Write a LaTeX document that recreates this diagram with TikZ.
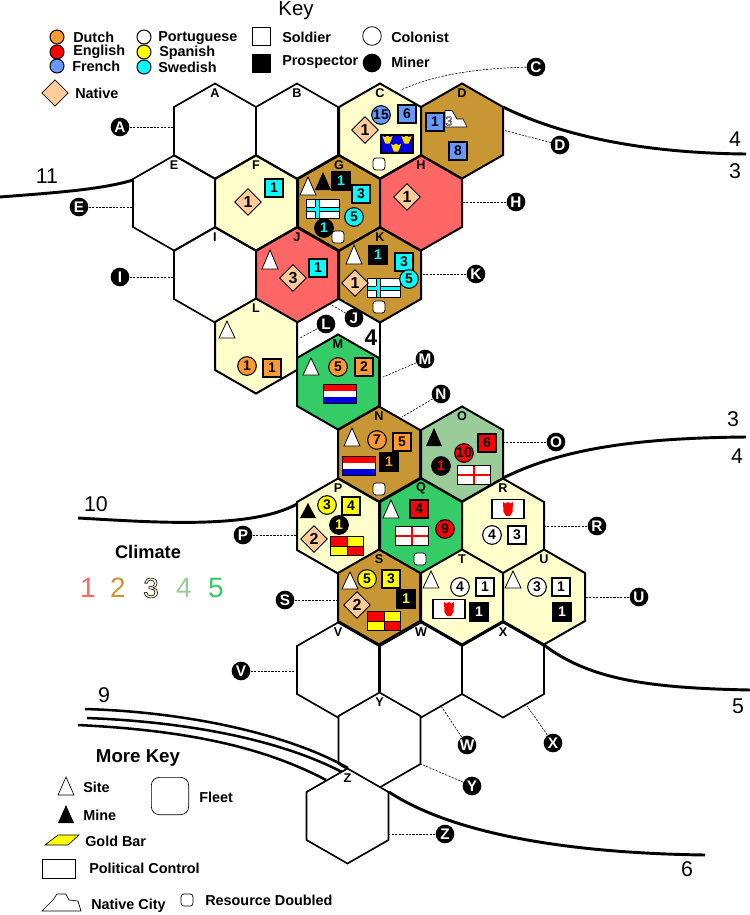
\documentclass[tikz,border=0pt]{standalone}
\usepackage{fontspec}
\setmainfont{Liberation Sans}
\usetikzlibrary{shapes.geometric}
\definecolor{cBrown}{HTML}{C89632}
\definecolor{cPale}{HTML}{FFFFCC}
\definecolor{cRed}{HTML}{FF6666}
\definecolor{cGreen}{HTML}{33CC66}
\definecolor{cSage}{HTML}{99CC99}
\definecolor{cOrange}{HTML}{FF9933}
\definecolor{cBlue}{HTML}{6699FF}
\definecolor{cCyan}{HTML}{00FFFF}
\definecolor{cYellow}{HTML}{FFFF00}
\definecolor{cSkin}{HTML}{FFCC99}
\definecolor{cPure}{HTML}{FF0000}
\definecolor{cNavy}{HTML}{0000E0}
\definecolor{cGold}{HTML}{FFDD00}
\newcount\tk
\newcommand{\nexttk}{\global\advance\tk by 1 }
\newcommand{\hollow}[2][0.45]{{\special{pdf:code 2 Tr #1 w 0 0 0 RG}#2\special{pdf:code 0 Tr}}}
\tikzset{
  hexline/.style={draw=black,line width=1.5pt,line join=miter},
  hexthin/.style={draw=black,line width=1.25pt,line join=miter},
  hexlabel/.style={font=\fontsize{9.5}{10}\selectfont\bfseries,inner sep=0pt},
  tokbase/.style={draw=black,line width=0.8pt,inner sep=0pt,font=\fontsize{10.5}{12}\selectfont\bfseries},
  squaretok/.style={tokbase,rectangle,minimum size=13.5pt},
  circletok/.style={tokbase,circle,minimum size=14pt},
  diamondtok/.style={tokbase,line width=0.65pt,diamond,aspect=1,minimum size=20pt,fill=cSkin,font=\fontsize{12}{12}\selectfont\bfseries},
  leaderball/.style={circle,fill=black,text=white,inner sep=0pt,minimum size=14pt,font=\fontsize{11.5}{12}\selectfont\bfseries},
  leader/.style={black,line width=0.45pt,dash pattern=on 1.6pt off 1pt},
  riverline/.style={black,line width=2.2pt},
  tripleline/.style={black,line width=1.9pt},
  keytext/.style={anchor=west,inner sep=0pt,font=\fontsize{10.8}{12}\selectfont\bfseries},
  headtext/.style={inner sep=0pt,font=\fontsize{15.3}{16}\selectfont},
  boldhead/.style={inner sep=0pt,font=\fontsize{14}{16}\selectfont\bfseries},
  bignum/.style={inner sep=0pt,font=\fontsize{16}{18}\selectfont},
  climnum/.style={inner sep=0pt,font=\fontsize{21}{24}\selectfont},
  fleetmark/.style={draw=black,line width=0.6pt,fill=white,rectangle,rounded corners=2.2pt,minimum size=9pt,inner sep=0pt},
  flagframe/.style={draw=black,line width=0.9pt},
}
\newcommand{\hexa}[5][hexline]{%
  \draw[#1,fill=#5] (#3,{#4-47.5}) -- ({#3+41},{#4-24}) -- ({#3+41},{#4+24}) -- (#3,{#4+47.5}) -- ({#3-41},{#4+24}) -- ({#3-41},{#4-24}) -- cycle;
  \coordinate (c#2) at (#3,#4);}
\newcommand{\hexlab}[3]{\node[hexlabel] (h#1) at (#2,{#3-38}) {#1};}
\newcommand{\tokSq}[5]{\nexttk\node[squaretok,fill=#3,text=#4] (tk\the\tk) at (#1,#2) {#5};}
\newcommand{\tokCi}[5]{\nexttk\node[circletok,fill=#3,text=#4] (tk\the\tk) at (#1,#2) {#5};}
\newcommand{\tokDi}[3]{\nexttk\node[diamondtok] (tk\the\tk) at (#1,#2) {#3};}
\newcommand{\siteT}[3]{\draw[black,line width=0.6pt,fill=white] (#1,#2) -- ({#1+8},#3) -- ({#1-8},#3) -- cycle;}
\newcommand{\mineT}[3]{\fill[black] (#1,#2) -- ({#1+8},#3) -- ({#1-8},#3) -- cycle;}
\newcommand{\fleetM}[2]{\nexttk\node[fleetmark] (tk\the\tk) at (#1,#2) {};}
\newcommand{\flagDutch}[2]{%
  \fill[cPure] ({#1-16.5},{#2-9.5}) rectangle ({#1+16.5},{#2-3});
  \fill[white] ({#1-16.5},{#2-3}) rectangle ({#1+16.5},{#2+3});
  \fill[cNavy] ({#1-16.5},{#2+3}) rectangle ({#1+16.5},{#2+9.5});
  \draw[flagframe] ({#1-16.5},{#2-9.5}) rectangle ({#1+16.5},{#2+9.5});}
\newcommand{\flagEng}[2]{%
  \fill[white] ({#1-16.5},{#2-9.5}) rectangle ({#1+16.5},{#2+9.5});
  \fill[cPure] ({#1-16.5},{#2-1}) rectangle ({#1+16.5},{#2+1});
  \fill[cPure] ({#1-1},{#2-9.5}) rectangle ({#1+1},{#2+9.5});
  \draw[flagframe] ({#1-16.5},{#2-9.5}) rectangle ({#1+16.5},{#2+9.5});}
\newcommand{\flagCheck}[2]{%
  \fill[cPure] ({#1-16.5},{#2-9.5}) rectangle (#1,#2);
  \fill[cYellow] (#1,{#2-9.5}) rectangle ({#1+16.5},#2);
  \fill[cYellow] ({#1-16.5},#2) rectangle (#1,{#2+9.5});
  \fill[cPure] (#1,#2) rectangle ({#1+16.5},{#2+9.5});
  \draw[black,line width=0.6pt] ({#1-16.5},#2) -- ({#1+16.5},#2) (#1,{#2-9.5}) -- (#1,{#2+9.5});
  \draw[flagframe] ({#1-16.5},{#2-9.5}) rectangle ({#1+16.5},{#2+9.5});}
\newcommand{\flagNord}[2]{%
  \fill[white] ({#1-16.5},{#2-9.5}) rectangle ({#1+16.5},{#2+9.5});
  \draw[black,line width=0.5pt,fill=cCyan] ({#1-16.5},{#2-2}) rectangle ({#1+16.5},{#2+2});
  \draw[black,line width=0.5pt,fill=cCyan] ({#1-8},{#2-9.5}) rectangle ({#1-4},{#2+9.5});
  \fill[cCyan] ({#1-7.7},{#2-1.7}) rectangle ({#1-4.3},{#2+1.7});
  \draw[flagframe] ({#1-16.5},{#2-9.5}) rectangle ({#1+16.5},{#2+9.5});}
\newcommand{\crownM}[2]{\fill[cGold] ({#1-5},{#2-4}) -- ({#1-2.5},{#2-2.8}) -- (#1,{#2-4.5}) -- ({#1+2.5},{#2-2.8}) -- ({#1+5},{#2-4}) -- ({#1+3.5},{#2+0.5}) -- ({#1+2},{#2+3.5}) -- ({#1-2},{#2+3.5}) -- ({#1-3.5},{#2+0.5}) -- cycle;}
\newcommand{\flagCrown}[2]{%
  \fill[cNavy] ({#1-16},{#2-9}) rectangle ({#1+16},{#2+9});
  \crownM{#1-9.5}{#2-4}\crownM{#1+9.5}{#2-4}\crownM{#1-1}{#2+4}
  \draw[flagframe] ({#1-16},{#2-9}) rectangle ({#1+16},{#2+9});}
\newcommand{\flagShield}[2]{%
  \fill[white] ({#1-16},{#2-9.5}) rectangle ({#1+16},{#2+9.5});
  \fill[cPure] ({#1-5},{#2-7}) -- ({#1-2.5},{#2-5.5}) -- (#1,{#2-7}) -- ({#1+2.5},{#2-5.5}) -- ({#1+5},{#2-7}) -- ({#1+4.5},{#2+3}) -- ({#1+2},{#2+7}) -- ({#1-2},{#2+7}) -- ({#1-4.5},{#2+3}) -- cycle;
  \draw[flagframe] ({#1-16},{#2-9.5}) rectangle ({#1+16},{#2+9.5});}
\newcommand{\callout}[5]{%
  \node[leaderball] (l#1) at (#2,#3) {#1};
  \coordinate (p#1) at (#4,#5);
  \draw[leader] (l#1) -- (p#1);}
\begin{document}
\begin{tikzpicture}[x=0.75pt,y=-0.75pt]
\useasboundingbox (0,0) rectangle (750,915);
\fill[white] (0,0) rectangle (750,915);
% white hexes
\hexa[hexthin]{A}{215}{131}{white}\hexa[hexthin]{B}{297}{131}{white}\hexa[hexthin]{E}{174}{203}{white}\hexa[hexthin]{I}{215}{275}{white}
\hexa[hexthin]{V}{338}{670}{white}\hexa[hexthin]{W}{421}{670}{white}\hexa[hexthin]{X}{503}{670}{white}\hexa[hexthin]{Y}{379.5}{740}{white}\hexa[hexthin]{Z}{347.5}{816}{white}
% coloured hexes
\hexa{C}{380}{131}{cPale}\hexa{D}{462}{131}{cBrown}
\hexa{F}{256}{203}{cPale}\hexa{G}{339}{203}{cBrown}\hexa{H}{421}{203}{cRed}
\hexa{J}{297}{275}{cRed}\hexa{K}{380}{275}{cBrown}
\hexa{L}{256}{346}{cPale}\hexa{M}{338}{382}{cGreen}
\hexa{N}{379}{454}{cBrown}\hexa{O}{462}{454}{cSage}
\hexa{P}{338}{526}{cPale}\hexa{Q}{421}{526}{cGreen}\hexa{R}{503}{526}{cPale}
\hexa{S}{379}{597}{cBrown}\hexa{T}{462}{597}{cPale}\hexa{U}{544}{597}{cPale}
% hex letters
\hexlab{A}{215}{131}\hexlab{B}{297}{131}\hexlab{C}{380}{131}\hexlab{D}{462}{131}
\hexlab{E}{174}{203}\hexlab{F}{256}{203}\hexlab{G}{339}{203}\hexlab{H}{421}{203}
\hexlab{I}{215}{275}\hexlab{J}{297}{275}\hexlab{K}{380}{275}
\hexlab{L}{256}{346}\hexlab{M}{338}{382}\hexlab{N}{379}{454}\hexlab{O}{462}{454}
\hexlab{P}{338}{526}\hexlab{Q}{421}{526}\hexlab{R}{503}{526}\hexlab{S}{379}{597}
\hexlab{T}{462}{597}\hexlab{U}{544}{597}\hexlab{V}{338}{670}\hexlab{W}{421}{670}
\hexlab{X}{503}{670}\hexlab{Y}{379.5}{740}\hexlab{Z}{347.5}{816}
% boundaries
\draw[riverline] (0,197) .. controls (50,193) and (100,190) .. (133,180);
\draw[riverline] (503,107) .. controls (560,135) and (640,153) .. (746,154);
\draw[riverline] (78,518) .. controls (150,522) and (250,530) .. (297,504);
\draw[riverline] (503,478) .. controls (560,450) and (630,438) .. (746,437);
\draw[riverline] (544,645) .. controls (590,680) and (650,688) .. (750,690);
\draw[riverline] (389,792) .. controls (450,832) and (560,853) .. (705,855);
\draw[riverline] (380,322) -- (380,407);
\draw[black,line width=1.9pt] (297,323) -- (297,358);
\draw[tripleline] (85,709) .. controls (190,712) and (290,735) .. (348,768);
\draw[tripleline] (87,718) .. controls (190,722) and (280,740) .. (342,772);
\draw[tripleline] (78,725) .. controls (180,730) and (260,745) .. (326,780);
% numbers
\node[bignum] (n11) at (47,176) {11};
\node[bignum] (n10) at (96,504) {10};
\node[bignum] (n4a) at (735,139) {4};
\node[bignum] (n3a) at (735,171) {3};
\node[bignum] (n3b) at (733,419) {3};
\node[bignum] (n4b) at (737,456) {4};
\node[bignum] (n5) at (738,706) {5};
\node[bignum] (n6) at (687,869) {6};
\node[bignum] (n9) at (104,695) {9};
\node[bignum,font=\fontsize{17}{18}\selectfont\bfseries] (n4c) at (371,338) {4};
% C
\tokCi{381}{115}{cBlue}{black}{15}\tokSq{407}{114}{cBlue}{black}{6}\tokDi{365}{130}{1}
\flagCrown{397}{144}\fleetM{379}{164}
% D
\draw[black,line width=0.5pt,fill=white] (445,127) -- (445,110.5) -- (452,110.5) -- (457,119) -- (463,119) -- (467,127) -- cycle;
\node[inner sep=0pt,text=white,font=\fontsize{10}{10}\selectfont] (dcity) at (449,121) {\hollow[0.2]{3}};
\tokSq{435}{122}{cBlue}{black}{1}\tokSq{458}{151}{cBlue}{black}{8}
% H
\tokDi{407}{197}{1}
% F
\tokDi{248}{202}{1}\tokSq{274}{188}{cCyan}{black}{1}
% G
\siteT{308}{177}{195}\mineT{323}{172}{190}\tokSq{341}{181}{black}{cCyan}{1}\tokSq{361}{194}{cCyan}{black}{3}
\flagNord{323}{209}\tokCi{354}{217}{cCyan}{black}{5}\tokCi{324}{228}{black}{cCyan}{1}\fleetM{338}{237}
% J
\siteT{270}{250}{269}\tokDi{293}{278}{3}\tokSq{318}{268}{cCyan}{black}{1}
% K
\siteT{354}{245}{264}\tokSq{378}{255}{black}{cCyan}{1}\tokSq{404}{262}{cCyan}{black}{3}
\flagNord{384}{288}\tokCi{409}{279}{cCyan}{black}{5}\tokDi{355}{283}{1}\fleetM{379}{307}
% L
\siteT{227}{321}{338}\tokCi{247}{366}{cOrange}{black}{1}\tokSq{272}{368}{cOrange}{black}{1}
% M
\siteT{311}{358}{375}\tokCi{338}{367}{cOrange}{black}{5}\tokSq{364}{367}{cOrange}{black}{2}\flagDutch{340}{394}
% N
\siteT{352}{428}{446}\tokCi{377}{440}{cOrange}{black}{7}\tokSq{402}{442}{cOrange}{black}{5}
\flagDutch{359}{466}\tokSq{389}{462}{black}{cOrange}{1}\fleetM{379}{489}
% O
\mineT{434}{428}{446}\tokCi{464}{453}{cPure}{black}{10}\tokSq{487}{443}{cPure}{black}{6}
\tokCi{441}{466}{black}{cPure}{1}\flagEng{474}{475}
% P
\mineT{308}{503}{518}\tokCi{327}{505}{cYellow}{black}{3}\tokSq{351}{506}{cYellow}{black}{4}
\tokCi{339}{525}{black}{cYellow}{1}\tokDi{314}{539}{2}\flagCheck{347}{546}
% Q
\siteT{391}{500}{518}\tokSq{419}{509}{cPure}{black}{4}\flagEng{412}{536}\tokCi{445}{529}{cPure}{black}{9}\fleetM{420}{559}
% R
\flagShield{508}{509}\tokCi{492}{535}{white}{black}{4}\tokSq{517}{535}{white}{black}{3}
% S
\siteT{350}{572}{589}\tokCi{367}{579}{cYellow}{black}{5}\tokSq{391}{579}{cYellow}{black}{3}
\tokSq{406}{599}{black}{cYellow}{1}\tokDi{357}{605}{2}\flagCheck{384}{621}
% T
\siteT{431}{571}{588}\tokCi{460}{587}{white}{black}{4}\tokSq{485}{587}{white}{black}{1}
\flagShield{449}{609}\tokSq{479}{612}{black}{white}{1}
% U
\siteT{513}{571}{588}\tokCi{537}{587}{white}{black}{3}\tokSq{561}{587}{white}{black}{1}\tokSq{562}{612}{black}{white}{1}
% callouts
\callout{A}{120}{127}{174}{127}
\node[leaderball] (lC) at (536,67) {C};
\coordinate (pC) at (401,90);
\draw[leader] (lC) .. controls (490,68) and (440,72) .. (pC);
\callout{D}{560}{145}{503}{130}
\callout{E}{79}{207}{133}{207}
\callout{H}{516}{202}{462}{202}
\callout{I}{120}{277}{174}{277}
\callout{K}{476}{274}{421}{274}
\callout{L}{326}{324}{300}{338}
\callout{J}{354}{318}{330}{304}
\callout{M}{425}{359}{383}{377}
\callout{N}{441}{394}{402}{417}
\callout{O}{556}{442}{503}{442}
\callout{P}{243}{535}{297}{535}
\callout{R}{597}{526}{544}{526}
\callout{S}{285}{600}{338}{600}
\callout{U}{639}{597}{585}{597}
\callout{V}{241}{671}{297}{671}
\callout{W}{467}{745}{441}{706}
\callout{X}{553}{743}{527}{706}
\callout{Y}{472}{786}{421}{764}
\callout{Z}{445}{834}{389}{834}
% key
\node[headtext] (keyhead) at (296,10.5) {Key};
\node[circletok,minimum size=10.5pt,fill=cOrange] (kDutch) at (57,37) {};
\node[circletok,minimum size=10.5pt,fill=cPure] (kEnglish) at (57,52) {};
\node[circletok,minimum size=10.5pt,fill=cBlue] (kFrench) at (57,66) {};
\node[keytext] (tDutch) at (73,37) {Dutch};
\node[keytext] (tEnglish) at (73,52) {English};
\node[keytext] (tFrench) at (72,66) {French};
\node[circletok,minimum size=10.5pt,fill=white] (kPort) at (144,37) {};
\node[circletok,minimum size=10.5pt,fill=cYellow] (kSpan) at (144,52) {};
\node[circletok,minimum size=10.5pt,fill=cCyan] (kSwed) at (144,67) {};
\node[keytext] (tPort) at (158,38) {Portuguese};
\node[keytext] (tSpan) at (159,53) {Spanish};
\node[keytext] (tSwed) at (158,67) {Swedish};
\node[draw=black,line width=0.6pt,fill=white,minimum size=13.5pt,inner sep=0pt] (kSold) at (261,36) {};
\node[draw=black,fill=black,minimum size=13.5pt,inner sep=0pt] (kProsp) at (261,63) {};
\node[keytext] (tSold) at (282,37) {Soldier};
\node[keytext] (tProsp) at (282,62) {Prospector};
\node[draw=black,line width=0.6pt,circle,fill=white,minimum size=14pt,inner sep=0pt] (kCol) at (372,36) {};
\node[circle,fill=black,minimum size=14pt,inner sep=0pt] (kMin) at (372,63) {};
\node[keytext] (tCol) at (391,37) {Colonist};
\node[keytext] (tMin) at (391,62) {Miner};
\node[diamond,aspect=1,draw=black,line width=0.6pt,fill=cSkin,minimum size=20pt,inner sep=0pt] (kNat) at (55,93) {};
\node[keytext] (tNat) at (75,93) {Native};
% climate
\node[boldhead,font=\fontsize{13.7}{16}\selectfont\bfseries] (climhead) at (148,552) {Climate};
\node[climnum,text=cRed] (c1) at (88,588) {1};
\node[climnum,text=cBrown] (c2) at (118,588) {2};
\node[climnum,text=cPale] (c3) at (151,588) {\hollow{3}};
\node[climnum,text=cSage] (c4) at (184,588) {4};
\node[climnum,text=cGreen] (c5) at (216,588) {5};
% more key
\node[boldhead] (morehead) at (138,758) {More Key};
\draw[black,line width=0.5pt,fill=white] (66,777) -- (74,795) -- (58,795) -- cycle;
\node[keytext] (tSite) at (83,787) {Site};
\mineT{66}{805}{823}
\node[keytext] (tMine) at (83,815) {Mine};
\draw[black,line width=0.5pt,fill=cYellow] (45,845) -- (58,835) -- (79,835) -- (68,845) -- cycle;
\node[keytext] (tGold) at (85,841) {Gold Bar};
\node[draw=black,line width=0.5pt,minimum width=24.5pt,minimum height=14.5pt,inner sep=0pt] (kPol) at (58.5,868.5) {};
\node[keytext] (tPol) at (89,868) {Political Control};
\draw[black,line width=0.5pt] (42,911) -- (53,900) -- (57,894) -- (66,894) -- (69,900) -- (78,901) -- (81,911) -- cycle;
\node[keytext] (tCity) at (91,906) {Native City};
\node[fleetmark,line width=0.5pt] (kRes) at (187,900) {};
\node[keytext] (tRes) at (205,900) {Resource Doubled};
\node[draw=black,line width=0.5pt,rectangle,rounded corners=6pt,minimum size=28pt,inner sep=0pt] (kFleet) at (170,796) {};
\node[keytext] (tFleet) at (199,797) {Fleet};
\end{tikzpicture}
\end{document}
